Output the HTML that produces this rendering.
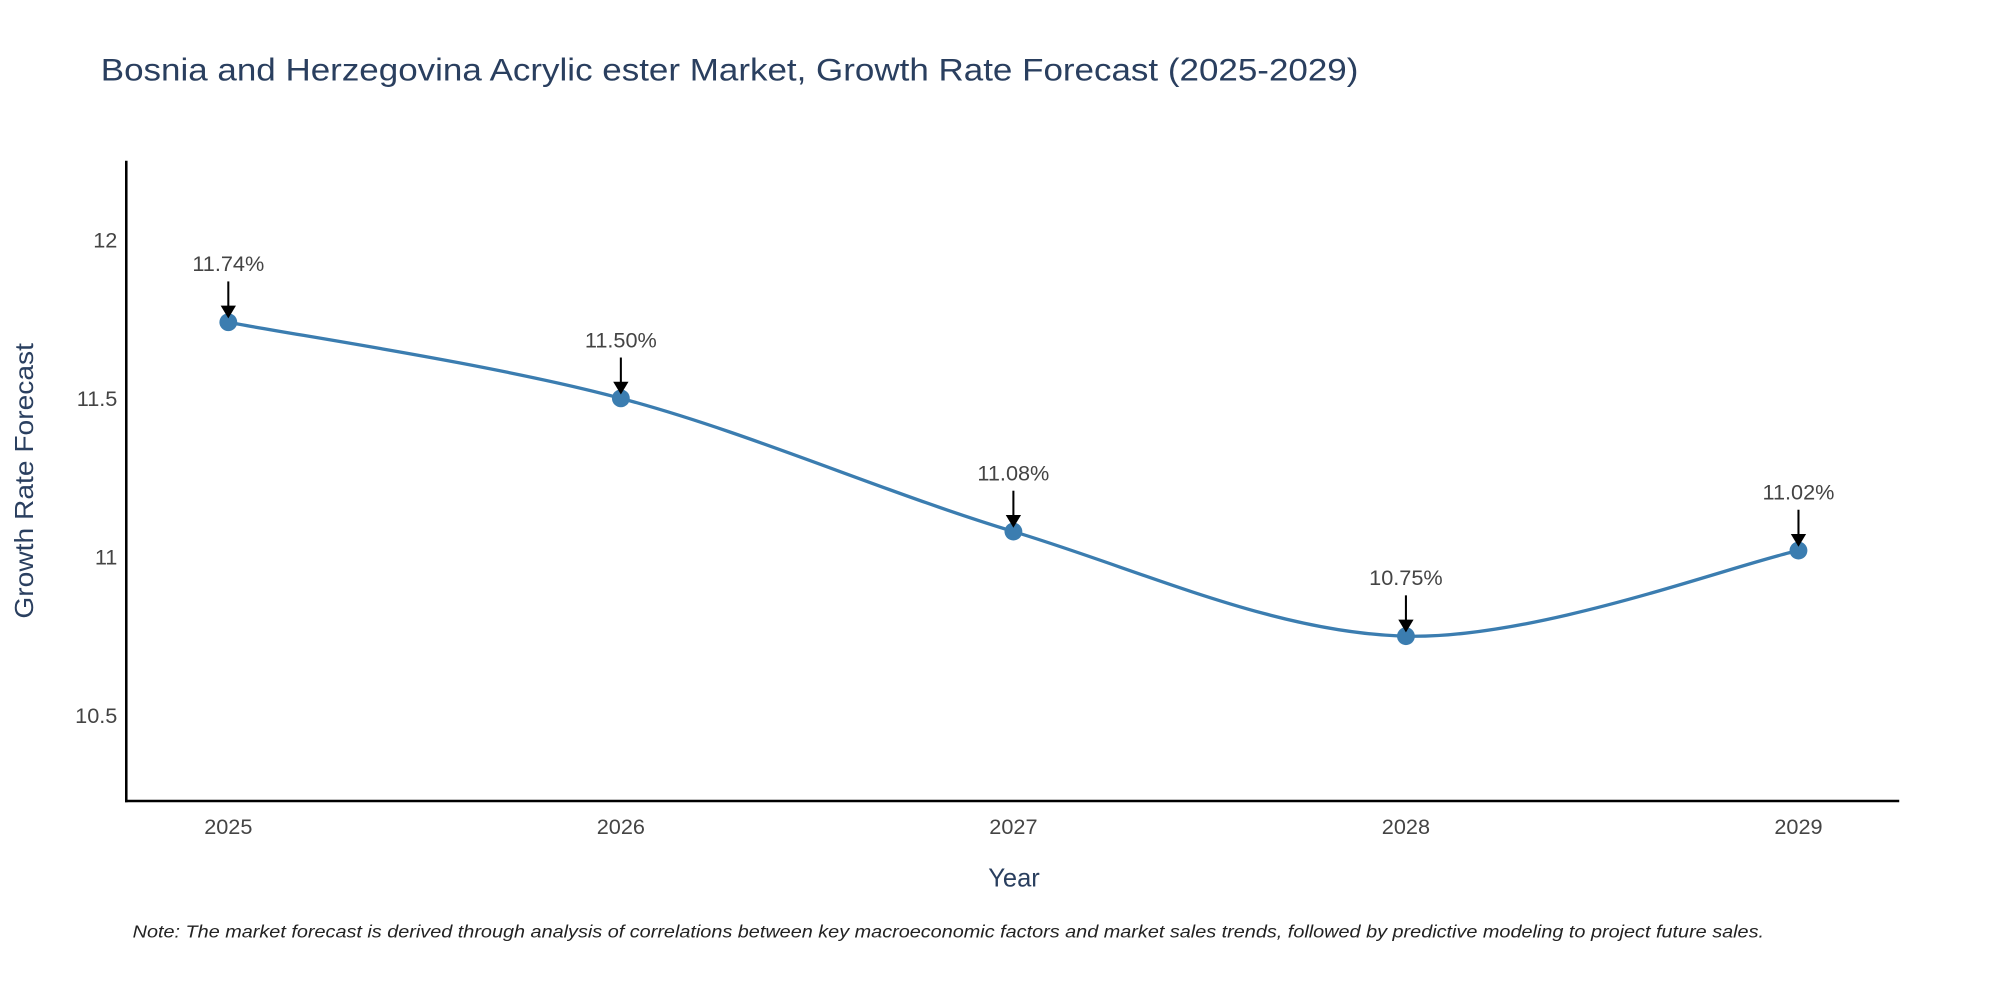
<!DOCTYPE html>
<html><head><meta charset="utf-8"><style>
html,body{margin:0;padding:0;background:#fff;}
svg{display:block;}
text{font-family:"Liberation Sans","DejaVu Sans",sans-serif;}
</style></head><body>
<svg id="chart" width="2000" height="1000" viewBox="0 0 1568 784">
<rect width="1568" height="784" fill="#fff"/>
<text x="79" y="63" font-size="25" fill="#2a3f5f" textLength="986" lengthAdjust="spacingAndGlyphs">Bosnia and Herzegovina Acrylic ester Market, Growth Rate Forecast (2025-2029)</text>
<g id="yticks"></g>
<g id="xticks"></g>
<line x1="99" y1="126" x2="99" y2="629" stroke="#000" stroke-width="2"/>
<line x1="98" y1="628" x2="1489" y2="628" stroke="#000" stroke-width="2"/>
<path id="line" fill="none" stroke="#3b7db0" stroke-width="2.6"/>
<g id="marks"></g>
<text transform="translate(26,377) rotate(-90)" text-anchor="middle" font-size="20" fill="#2a3f5f" textLength="216" lengthAdjust="spacingAndGlyphs">Growth Rate Forecast</text>
<text x="795" y="695" text-anchor="middle" font-size="20" fill="#2a3f5f">Year</text>
<text x="104" y="735" font-size="14" font-style="italic" fill="#222" textLength="1279" lengthAdjust="spacingAndGlyphs">Note: The market forecast is derived through analysis of correlations between key macroeconomic factors and market sales trends, followed by predictive modeling to project future sales.</text>
</svg>
<script>
const years = [2025, 2026, 2027, 2028, 2029];
const values = [11.74, 11.50, 11.08, 10.75, 11.02];
const labels = ["11.74%", "11.50%", "11.08%", "10.75%", "11.02%"];
const yTickVals = [10.5, 11, 11.5, 12];
const yTickLabels = ["10.5", "11", "11.5", "12"];

const NS = "http://www.w3.org/2000/svg";
function xs(v){ return 179 + (v - 2025) * 307.75; }
function ys(v){ return 188 + (12 - v) * 248.6; }
function mk(tag, attrs, parent){ const e = document.createElementNS(NS, tag); for (const k in attrs) e.setAttribute(k, attrs[k]); parent.appendChild(e); return e; }

const yt = document.getElementById('yticks');
yTickVals.forEach((v, i) => {
  const t = mk('text', {x: 92, y: ys(v) + 6, 'text-anchor': 'end', 'font-size': 17, fill: '#444'}, yt);
  t.textContent = yTickLabels[i];
  
  
});
const xt = document.getElementById('xticks');
years.forEach(y => {
  const t = mk('text', {x: xs(y), y: 654, 'text-anchor': 'middle', 'font-size': 17, fill: '#444'}, xt);
  t.textContent = String(y);
  
  
});

const pts = years.map((y, i) => [xs(y), ys(values[i])]);
let d = `M${pts[0][0]},${pts[0][1]}`;
const s = 0.5 / 3;
for (let i = 0; i < pts.length - 1; i++) {
  const p0 = pts[Math.max(0, i - 1)], p1 = pts[i], p2 = pts[i + 1], p3 = pts[Math.min(pts.length - 1, i + 2)];
  const c1 = [p1[0] + (p2[0] - p0[0]) * s, p1[1] + (p2[1] - p0[1]) * s];
  const c2 = [p2[0] - (p3[0] - p1[0]) * s, p2[1] - (p3[1] - p1[1]) * s];
  d += ` C${c1[0]},${c1[1]} ${c2[0]},${c2[1]} ${p2[0]},${p2[1]}`;
}
document.getElementById('line').setAttribute('d', d);

const g = document.getElementById('marks');
pts.forEach((p, i) => {
  const c = mk('circle', {cx: p[0], cy: p[1], r: 7, fill: '#3b7db0'}, g);
  
  
  const a = mk('line', {x1: p[0], y1: p[1] - 32, x2: p[0], y2: p[1] - 12, stroke: '#000', 'stroke-width': 1.6}, g);
  
  
  const h = mk('path', {d: `M${p[0]-6},${p[1]-13} L${p[0]+6},${p[1]-13} L${p[0]},${p[1]-3} Z`, fill: '#000'}, g);
  
  
  const t = mk('text', {x: p[0], y: p[1] - 40, 'text-anchor': 'middle', 'font-size': 17, fill: '#444'}, g);
  t.textContent = labels[i];
  
  
});
</script>
</body></html>
